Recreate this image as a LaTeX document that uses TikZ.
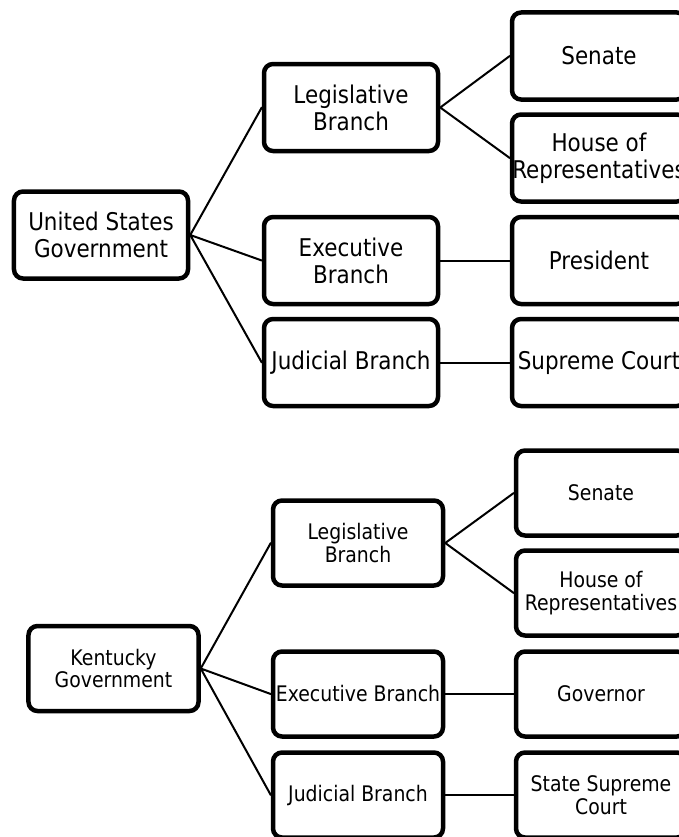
\documentclass[tikz,border=0pt]{standalone}
\usepackage{fontspec}
\setmainfont{DejaVu Sans}[FakeStretch=0.88]
\tikzset{
  box/.style={draw, line width=4.5bp, rounded corners=9bp, align=center, inner sep=0pt,
    minimum width=174bp, minimum height=87bp, font=\fontsize{24.5}{27}\selectfont},
  kbox/.style={box, minimum width=170bp, minimum height=85bp, font=\fontsize{21.5}{23}\selectfont},
  link/.style={line width=2bp}
}
\begin{document}
\begin{tikzpicture}[x=1bp, y=-1bp, line join=round, line cap=round]
\useasboundingbox (0,0) rectangle (679,837);
\clip (0,0) rectangle (679,837);
% federal
\node[box] (us) at (101,235) {United States\\Government};
\node[box] (usleg) at (351,107.5) {Legislative\\Branch};
\node[box] (usexe) at (351,260.5) {Executive\\Branch};
\node[box] (usjud) at (351,362.5) {Judicial Branch};
\node[box] (ussen) at (599,56) {Senate};
\node[box] (ushouse) at (599,158) {House of\\Representatives};
\node[box] (uspres) at (599,260.5) {President};
\node[box] (uscourt) at (599,362.5) {Supreme Court};
\draw[link] (us.east)--(usleg.west) (us.east)--(usexe.west) (us.east)--(usjud.west);
\draw[link] (usleg.east)--(ussen.west) (usleg.east)--(ushouse.west);
\draw[link] (usexe.east)--(uspres.west) (usjud.east)--(uscourt.west);
% state
\node[kbox] (ky) at (113.5,668.5) {Kentucky\\Government};
\node[kbox] (kyleg) at (358,543) {Legislative\\Branch};
\node[kbox] (kyexe) at (358,694) {Executive Branch};
\node[kbox] (kyjud) at (358,795) {Judicial Branch};
\node[kbox] (kysen) at (601,493) {Senate};
\node[kbox] (kyhouse) at (601,593) {House of\\Representatives};
\node[kbox] (kygov) at (601,694) {Governor};
\node[kbox] (kycourt) at (601,795) {State Supreme\\Court};
\draw[link] (ky.east)--(kyleg.west) (ky.east)--(kyexe.west) (ky.east)--(kyjud.west);
\draw[link] (kyleg.east)--(kysen.west) (kyleg.east)--(kyhouse.west);
\draw[link] (kyexe.east)--(kygov.west) (kyjud.east)--(kycourt.west);
\end{tikzpicture}
\end{document}
